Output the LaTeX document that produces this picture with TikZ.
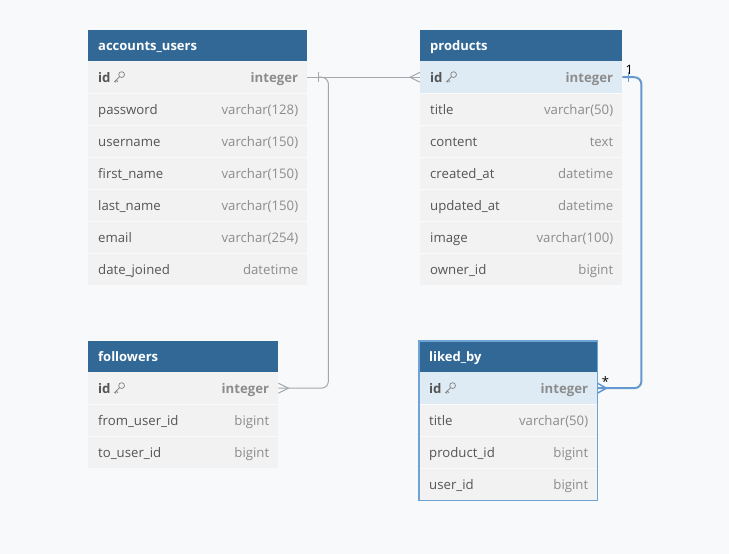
\documentclass[tikz,border=0pt]{standalone}
\usepackage{fontspec}
\setmainfont{Open Sans}
\usetikzlibrary{calc}

\definecolor{canvas}{HTML}{F8F9FA}
\definecolor{hdrblue}{HTML}{316896}
\definecolor{rowgray}{HTML}{F2F2F2}
\definecolor{rowsep}{HTML}{FAFAFA}
\definecolor{pkblue}{HTML}{DFEBF4}
\definecolor{fieldtxt}{HTML}{555555}
\definecolor{typetxt}{HTML}{8C8C8C}
\definecolor{relgray}{HTML}{A3A7AC}
\definecolor{relblue}{HTML}{6399CF}
\definecolor{selborder}{HTML}{6FA3D6}

\begin{document}
\begin{tikzpicture}[x=1pt,y=-1pt,
  hdr/.style={rectangle, fill=hdrblue, anchor=north west, minimum height=31, inner sep=0},
  hdrtext/.style={anchor=base west, inner sep=0, text=white, font=\fontsize{13}{15}\selectfont\bfseries},
  rowbox/.style={rectangle, fill=rowgray, anchor=north west, minimum height=32, inner sep=0},
  pkbox/.style={rowbox, fill=pkblue},
  fname/.style={anchor=base west, inner sep=0, text=fieldtxt, font=\fontsize{13.2}{15}\selectfont},
  ftype/.style={anchor=base east, inner sep=0, text=typetxt, font=\fontsize{13.2}{15}\selectfont},
  pkname/.style={fname, font=\fontsize{13.2}{15}\selectfont\bfseries},
  pktype/.style={ftype, font=\fontsize{13.2}{15}\selectfont\bfseries},
  sep/.style={draw=rowsep, line width=1},
  rel/.style={draw=relgray, line width=1},
  relsel/.style={draw=relblue, line width=2},
  card/.style={inner sep=0, font=\fontsize{13}{14}\selectfont, text=black},
  keyicon/.pic={
    \draw[typetxt, line width=0.8] (2.6,-2.6) circle (2.9);
    \draw[typetxt, line width=0.8, line cap=round] (0.6,-0.6) -- (-4.6,4.6) (-2.8,2.8) -- (-1.2,4.4) (-4,4) -- (-2.8,5.2);
  }]

\path[fill=canvas] (0,0) rectangle (729,554);
\useasboundingbox (0,0) rectangle (729,554);

% ---------- accounts_users ----------
\node[hdr, minimum width=219] (au) at (88,30) {};
\node[hdrtext] (aut) at ($(au.west)+(10,4.5)$) {accounts\_users};
\node[rowbox, minimum width=219] (au1) at (88,61) {};
\node[pkname] (au1n) at ($(au1.west)+(10,5)$) {id};
\pic at ($(au1.west)+(31,0)$) {keyicon};
\node[pktype] (au1t) at ($(au1.east)+(-9,5)$) {integer};
\foreach \f/\t [count=\i from 2] in {password/varchar(128), username/varchar(150),
    first\_name/varchar(150), last\_name/varchar(150), email/varchar(254), date\_joined/datetime}{
  \node[rowbox, minimum width=219] (au\i) at (88,{61+32*(\i-1)}) {};
  \draw[sep] (au\i.north west) -- (au\i.north east);
  \node[fname] (au\i n) at ($(au\i.west)+(10,5)$) {\f};
  \node[ftype] (au\i t) at ($(au\i.east)+(-9,5)$) {\t};
}

% ---------- products ----------
\node[hdr, minimum width=202] (pr) at (420,30) {};
\node[hdrtext] (prt) at ($(pr.west)+(10,4.5)$) {products};
\node[pkbox, minimum width=202] (pr1) at (420,61) {};
\node[pkname] (pr1n) at ($(pr1.west)+(10,5)$) {id};
\pic at ($(pr1.west)+(31,0)$) {keyicon};
\node[pktype] (pr1t) at ($(pr1.east)+(-9,5)$) {integer};
\foreach \f/\t [count=\i from 2] in {title/varchar(50), content/text, created\_at/datetime,
    updated\_at/datetime, image/varchar(100), owner\_id/bigint}{
  \node[rowbox, minimum width=202] (pr\i) at (420,{61+32*(\i-1)}) {};
  \draw[sep] (pr\i.north west) -- (pr\i.north east);
  \node[fname] (pr\i n) at ($(pr\i.west)+(10,5)$) {\f};
  \node[ftype] (pr\i t) at ($(pr\i.east)+(-9,5)$) {\t};
}

% ---------- followers ----------
\node[hdr, minimum width=190] (fo) at (88,341) {};
\node[hdrtext] (fot) at ($(fo.west)+(10,4.5)$) {followers};
\node[rowbox, minimum width=190] (fo1) at (88,372) {};
\node[pkname] (fo1n) at ($(fo1.west)+(10,5)$) {id};
\pic at ($(fo1.west)+(31,0)$) {keyicon};
\node[pktype] (fo1t) at ($(fo1.east)+(-9,5)$) {integer};
\foreach \f/\t [count=\i from 2] in {from\_user\_id/bigint, to\_user\_id/bigint}{
  \node[rowbox, minimum width=190] (fo\i) at (88,{372+32*(\i-1)}) {};
  \draw[sep] (fo\i.north west) -- (fo\i.north east);
  \node[fname] (fo\i n) at ($(fo\i.west)+(10,5)$) {\f};
  \node[ftype] (fo\i t) at ($(fo\i.east)+(-9,5)$) {\t};
}

% ---------- liked_by ----------
\node[hdr, minimum width=178] (lb) at (419,341) {};
\node[hdrtext] (lbt) at ($(lb.west)+(10,4.5)$) {liked\_by};
\node[pkbox, minimum width=178] (lb1) at (419,372) {};
\node[pkname] (lb1n) at ($(lb1.west)+(10,5)$) {id};
\pic at ($(lb1.west)+(31,0)$) {keyicon};
\node[pktype] (lb1t) at ($(lb1.east)+(-9,5)$) {integer};
\foreach \f/\t [count=\i from 2] in {title/varchar(50), product\_id/bigint, user\_id/bigint}{
  \node[rowbox, minimum width=178] (lb\i) at (419,{372+32*(\i-1)}) {};
  \draw[sep] (lb\i.north west) -- (lb\i.north east);
  \node[fname] (lb\i n) at ($(lb\i.west)+(10,5)$) {\f};
  \node[ftype] (lb\i t) at ($(lb\i.east)+(-9,5)$) {\t};
}
\draw[selborder, line width=1.5] (lb.north west) rectangle (lb4.south east);

% ---------- relationships ----------
% accounts_users.id  -|-----<  products.id
\draw[rel] (au1.east) -- (pr1.west);
\draw[rel] ($(au1.east)+(11,-5)$) -- ($(au1.east)+(11,5)$);
\draw[rel] ($(pr1.west)+(0,-5)$) -- ($(pr1.west)+(-10,0)$) -- ($(pr1.west)+(0,5)$);

% followers.id  >-----  accounts_users.id
\coordinate (j1) at ($(au1.east)+(21,0)$);
\draw[rel, rounded corners=7] (fo1.east) -| (j1) -- ($(au1.east)+(11,0)$);
\draw[rel] ($(fo1.east)+(0,-5)$) -- ($(fo1.east)+(10,0)$) -- ($(fo1.east)+(0,5)$);

% products.id  1 -----* liked_by.id
\coordinate (j2) at ($(pr1.east)+(19,0)$);
\draw[relsel, rounded corners=7] (pr1.east) -- (j2) |- (lb1.east);
\draw[relblue, line width=1.5] ($(pr1.east)+(6,-5)$) -- ($(pr1.east)+(6,5)$);
\draw[relblue, line width=1.5] ($(lb1.east)+(0,-5)$) -- ($(lb1.east)+(9,0)$) -- ($(lb1.east)+(0,5)$);
\node[card, anchor=base] (c1) at ($(pr1.east)+(7,-3)$) {1};
\node[card, anchor=base] (c2) at ($(lb1.east)+(8,-2)$) {*};

\end{tikzpicture}
\end{document}
